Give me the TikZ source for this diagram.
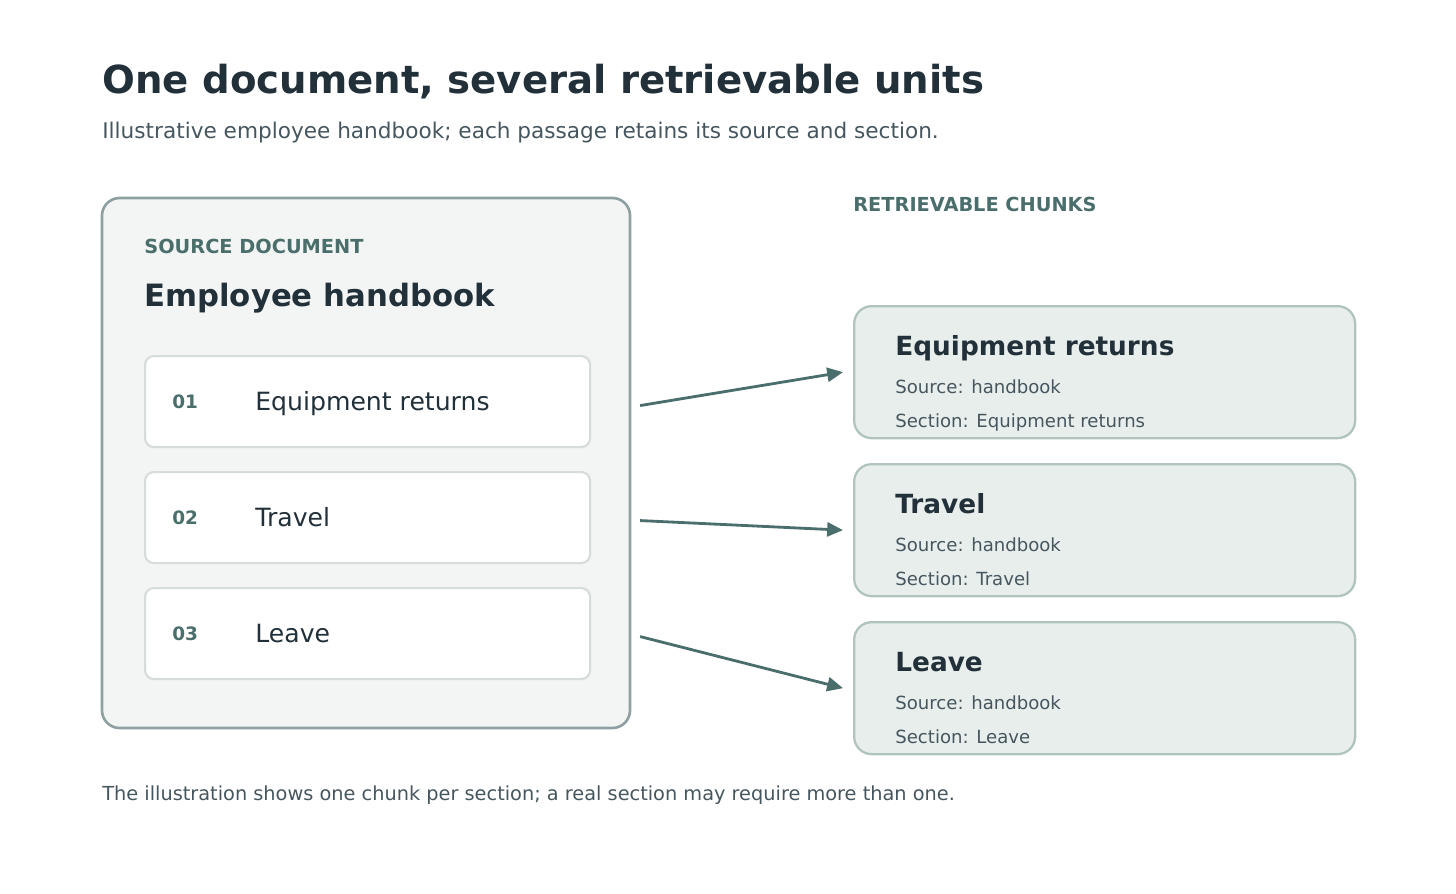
\documentclass[tikz,border=0pt]{standalone}
\usepackage{fontspec}
\setmainfont{DejaVu Sans}
\usetikzlibrary{arrows.meta,positioning,calc}
\definecolor{ink}{HTML}{22303A}
\definecolor{muted}{HTML}{46565E}
\definecolor{teal}{HTML}{4A6E6B}
\definecolor{docline}{HTML}{8FA0A3}
\definecolor{docfill}{HTML}{F3F5F4}
\definecolor{itemline}{HTML}{D5DCDA}
\definecolor{chunkfill}{HTML}{E8EEEC}
\definecolor{chunkline}{HTML}{B0C4BD}
\tikzset{
  lbl/.style={anchor=base west, inner sep=0pt},
  item/.style={draw=itemline, line width=1.2pt, fill=white, rounded corners=5pt, minimum width=445*0.02cm, minimum height=91*0.02cm, anchor=north west},
  chunk/.style={draw=chunkline, line width=1.3pt, fill=chunkfill, rounded corners=10pt, minimum width=501*0.02cm, minimum height=132*0.02cm, anchor=north west},
  link/.style={draw=teal, line width=1.6pt, -{Triangle[length=9pt,width=8pt]}}
}
\begin{document}
\begin{tikzpicture}[x=0.02cm,y=-0.02cm]
    \useasboundingbox (0,0) rectangle (1456,893);

    % Heading
    \node[lbl, text=ink, font=\fontsize{22}{26}\selectfont\bfseries] (title) at (102,93) {One document, several retrievable units};
    \node[lbl, text=muted, font=\fontsize{12.3}{15}\selectfont] (subtitle) at (102,138) {Illustrative employee handbook; each passage retains its source and section.};

    % Source document
    \draw[draw=docline, line width=1.5pt, fill=docfill, rounded corners=10pt] (102,198) rectangle (630,728);
    \node[lbl, text=teal, font=\fontsize{11}{13}\selectfont\bfseries] (srclbl) at (144,253) {SOURCE DOCUMENT};
    \node[lbl, text=ink, font=\fontsize{17.5}{21}\selectfont\bfseries] (doctitle) at (144,306) {Employee handbook};

    % Sections
    \foreach \n/\txt [count=\i] in {01/Equipment returns,02/Travel,03/Leave} {
        \node[item] (item\i) at (144,{355+116*(\i-1)}) {};
        \node[lbl, text=teal, font=\fontsize{10.5}{12}\selectfont\bfseries] at ($(item\i.west)+(28,7)$) {\n};
        \node[lbl, text=ink, font=\fontsize{14.3}{17}\selectfont] at ($(item\i.west)+(111,9)$) {\txt};
    }

    % Chunks
    \node[lbl, text=teal, font=\fontsize{11}{13}\selectfont\bfseries] (chunklbl) at (853,211) {RETRIEVABLE CHUNKS};
    \foreach \txt [count=\i] in {Equipment returns,Travel,Leave} {
        \node[chunk] (chunk\i) at (853,{305+158*(\i-1)}) {};
        \node[lbl, text=ink, font=\fontsize{15}{18}\selectfont\bfseries] at ($(chunk\i.north west)+(42,50)$) {\txt};
        \node[lbl, text=muted, font=\fontsize{10.3}{12}\selectfont] at ($(chunk\i.north west)+(42,88)$) {Source: handbook};
        \node[lbl, text=muted, font=\fontsize{10.3}{12}\selectfont] at ($(chunk\i.north west)+(42,122)$) {Section: \txt};
    }

    % Links
    \draw[link] ($(item1.east)+(49,4)$) -- ($(chunk1.west)+(-10,0)$);
    \draw[link] ($(item2.east)+(49,3)$) -- ($(chunk2.west)+(-10,0)$);
    \draw[link] ($(item3.east)+(49,3)$) -- ($(chunk3.west)+(-10,0)$);

    % Footer
    \node[lbl, text=muted, font=\fontsize{11}{13}\selectfont] (footer) at (102,800) {The illustration shows one chunk per section; a real section may require more than one.};
\end{tikzpicture}
\end{document}
